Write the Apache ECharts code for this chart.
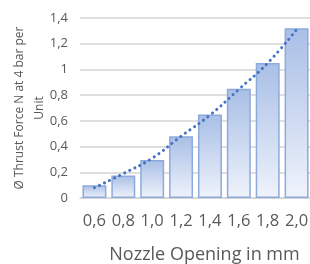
<!DOCTYPE html>
<html>
<head>
<meta charset="utf-8">
<script src="https://cdn.jsdelivr.net/npm/echarts@6/dist/echarts.min.js"></script>
<style>
  html, body { margin: 0; padding: 0; background: #fff; }
  #chart { width: 310px; height: 264px; }
</style>
</head>
<body>
<div id="chart"></div>
<script>
// nozzle opening (mm)
const categories = ['0,6', '0,8', '1,0', '1,2', '1,4', '1,6', '1,8', '2,0'];
// thrust force per unit (N at 4 bar)
const thrustValues = [0.10, 0.175, 0.295, 0.48, 0.65, 0.85, 1.05, 1.32];
// dotted trend line
const trendValues = [0.08, 0.19, 0.31, 0.48, 0.645, 0.845, 1.05, 1.31];
const yTickLabels = ['0', '0,2', '0,4', '0,6', '0,8', '1', '1,2', '1,4'];

const font = '"Open Sans", "Noto Sans", sans-serif';
const textColor = '#595959';

const chart = echarts.init(document.getElementById('chart'));

chart.setOption({
  animation: false,
  grid: {
    left: 80,
    top: 18,
    width: 231,
    height: 180,
    containLabel: false,
    outerBoundsMode: 'none',
  },
  xAxis: {
    type: 'category',
    data: categories,
    axisTick: { show: false },
    axisLine: { lineStyle: { color: '#D4D4D4', width: 1.5 } },
    axisLabel: {
      interval: 0,
      color: textColor,
      fontFamily: font,
      fontSize: 16.5,
      margin: 15,
    },
    name: 'Nozzle Opening in mm',
    nameLocation: 'middle',
    nameGap: 48,
    nameMoveOverlap: false,
    nameTextStyle: {
      color: textColor,
      fontFamily: font,
      fontSize: 18,
      padding: [0, 0, 0, 18],
    },
  },
  yAxis: {
    type: 'value',
    min: 0,
    max: 1.4,
    interval: 0.2,
    axisLine: { show: false },
    axisTick: { show: false },
    splitLine: { lineStyle: { color: '#D4D4D4', width: 1.5 } },
    axisLabel: {
      color: textColor,
      fontFamily: font,
      fontSize: 13,
      margin: 12,
      formatter: (v) => yTickLabels[Math.round(v / 0.2)],
    },
    name: 'Ø Thrust Force N at 4 bar per\nUnit',
    nameLocation: 'middle',
    nameGap: 30,
    nameMoveOverlap: false,
    nameTextStyle: {
      color: textColor,
      fontFamily: font,
      fontSize: 12,
      fontWeight: 500,
      lineHeight: 20,
    },
  },
  series: [
    {
      type: 'bar',
      data: thrustValues,
      barCategoryGap: '17%',
      itemStyle: {
        color: new echarts.graphic.LinearGradient(0, 0, 0, 1, [
          { offset: 0, color: '#A9BFE6' },
          { offset: 1, color: '#EFF3FB' },
        ]),
        borderColor: '#8EAADB',
        borderWidth: 1.5,
      },
    },
    {
      type: 'line',
      data: trendValues,
      smooth: true,
      symbol: 'none',
      z: 5,
      lineStyle: {
        color: '#4472C4',
        width: 3,
        type: [0.1, 5.5],
        cap: 'round',
      },
    },
  ],
});
</script>
</body>
</html>
